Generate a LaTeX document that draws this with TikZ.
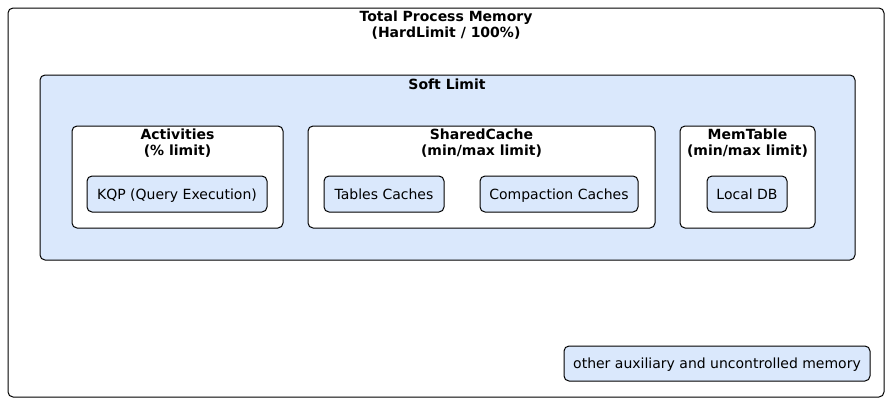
\documentclass[tikz,border=0pt]{standalone}
\usepackage{fontspec}
\setmainfont{DejaVu Sans}
\usetikzlibrary{positioning}
\definecolor{memblue}{HTML}{DAE8FC}
\tikzset{
	group/.style={draw=black, line width=1pt, rounded corners=5pt},
	leaf/.style={draw=black, line width=1pt, rounded corners=5pt, fill=memblue, inner sep=0pt, text height=12pt, text depth=2pt, font=\fontsize{14}{16}\selectfont},
	title/.style={font=\fontsize{14}{16}\selectfont\bfseries, align=center, inner sep=0pt}
}

\begin{document}
\begin{tikzpicture}[x=1pt, y=-1pt]
		%%%%% START %%%%%
		\useasboundingbox (0, 0) rectangle (892, 402);
		
		% total process memory
		\draw[group, fill=white] (8, 8) rectangle (884, 397);
		\node[title] (total) at (446, 25.5) {Total Process Memory\\(HardLimit / 100\%)};
		
		% soft limit
		\draw[group, fill=memblue] (40, 75) rectangle (855, 260);
		\node[title] (soft) at (447, 84.5) {Soft Limit};
		
		\draw[group, fill=white] (72, 126) rectangle (283, 228);
		\node[title] (activities) at (177.5, 143.5) {Activities\\(\% limit)};
		\node[leaf, minimum width=180pt, minimum height=36pt] (kqp) at (177, 194) {KQP (Query Execution)};
		
		\draw[group, fill=white] (308, 126) rectangle (655, 228);
		\node[title] (shared) at (481.5, 143.5) {SharedCache\\(min/max limit)};
		\node[leaf, minimum width=120pt, minimum height=36pt] (tables) at (384, 194) {Tables Caches};
		\node[leaf, minimum width=158pt, minimum height=36pt] (compaction) at (559, 194) {Compaction Caches};
		
		\draw[group, fill=white] (680, 126) rectangle (815, 228);
		\node[title] (memtable) at (747.5, 143.5) {MemTable\\(min/max limit)};
		\node[leaf, minimum width=80pt, minimum height=36pt] (localdb) at (747, 194) {Local DB};
		
		% the rest
		\node[leaf, minimum width=306pt, minimum height=35pt] (other) at (717, 363.5) {other auxiliary and uncontrolled memory};
		%%%%% END %%%%%
\end{tikzpicture}
\end{document}
